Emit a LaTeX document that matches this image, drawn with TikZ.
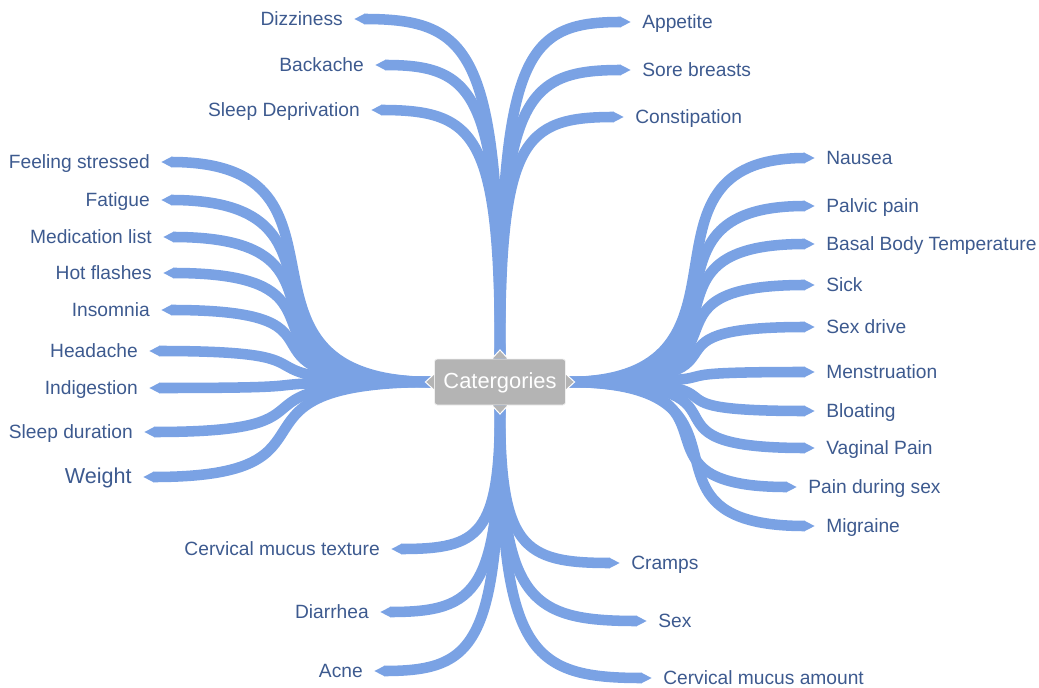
\documentclass[tikz,border=0pt]{standalone}
\usepackage{fontspec}
\setmainfont{Liberation Sans}
\usetikzlibrary{arrows.meta,backgrounds}
\definecolor{branchblue}{RGB}{122,162,228}
\definecolor{labeltext}{RGB}{61,90,143}
\definecolor{hubgray}{RGB}{180,180,180}
\tikzset{
  branch/.style={draw=branchblue, line width=7.9pt, line cap=butt,
    -{Triangle[length=8pt,width=7.2pt]}},
  lbl/.style={font=\fontsize{14.4}{16}\selectfont, text=labeltext, inner xsep=8.25pt,
    inner ysep=0pt, text height=1.0em, text depth=0pt},
  lblL/.style={lbl, anchor=east},
  lblR/.style={lbl, anchor=west},
  hubbox/.style={fill=hubgray, draw=white!80!hubgray, line width=0.6pt, rounded corners=2pt,
    minimum width=98.25pt, minimum height=34.5pt, text=white,
    font=\fontsize{16.4}{18}\selectfont, inner sep=0pt, text height=0.95em, text depth=0pt},
  notch/.style={fill=hubgray, draw=white, line width=0.75pt, line join=miter}
}
\begin{document}
\begin{tikzpicture}[x=0.75pt,y=-0.75pt]
\useasboundingbox (0,0) rectangle (1039,688);
\node[hubbox] (hub) at (500,382) {Catergories};
% notches
\draw[notch] ([xshift=-6pt]hub.north) -- ++(6pt,6.5pt) -- ++(6pt,-6.5pt);
\draw[notch] ([xshift=-6pt]hub.south) -- ++(6pt,-6.5pt) -- ++(6pt,6.5pt);
\draw[notch] ([yshift=6pt]hub.west) -- ++(-6.5pt,-6pt) -- ++(6.5pt,-6pt);
\draw[notch] ([yshift=6pt]hub.east) -- ++(6.5pt,-6pt) -- ++(-6.5pt,-6pt);

% top labels
\node[lblL] (diz) at (354,19) {Dizziness};
\node[lblL] (back) at (375,65) {Backache};
\node[lblL] (sleepdep) at (371,110) {Sleep Deprivation};
\node[lblR] (app) at (631,22) {Appetite};
\node[lblR] (sore) at (631,70) {Sore breasts};
\node[lblR] (const) at (624,117) {Constipation};
% left labels
\node[lblL] (stress) at (161,162) {Feeling stressed};
\node[lblL] (fat) at (161,200) {Fatigue};
\node[lblL] (med) at (163,237) {Medication list};
\node[lblL] (hot) at (163,273) {Hot flashes};
\node[lblL] (ins) at (161,310) {Insomnia};
\node[lblL] (head) at (149,351) {Headache};
\node[lblL] (indig) at (149,388) {Indigestion};
\node[lblL] (sleepdur) at (144,432) {Sleep duration};
\node[lblL, font=\fontsize{16.2}{18}\selectfont] (weight) at (143,477) {Weight};
% right labels
\node[lblR] (naus) at (815,158) {Nausea};
\node[lblR] (palv) at (815,206) {Palvic pain};
\node[lblR] (bbt) at (815,244) {Basal Body Temperature};
\node[lblR] (sick) at (815,285) {Sick};
\node[lblR] (sexd) at (815,327) {Sex drive};
\node[lblR] (mens) at (815,372) {Menstruation};
\node[lblR] (bloat) at (815,411) {Bloating};
\node[lblR] (vag) at (815,448) {Vaginal Pain};
\node[lblR] (pds) at (797,487) {Pain during sex};
\node[lblR] (mig) at (815,526) {Migraine};
% bottom labels
\node[lblL] (cmt) at (391,549) {Cervical mucus texture};
\node[lblL] (diar) at (380,612) {Diarrhea};
\node[lblL] (acne) at (374,671) {Acne};
\node[lblR] (cramp) at (620,563) {Cramps};
\node[lblR] (sex) at (647,621) {Sex};
\node[lblR] (cma) at (652,678) {Cervical mucus amount};

\begin{scope}[on background layer]
% top
\draw[branch] (hub.north) .. controls +(0,-306) and +(120,0) .. (diz.east);
\draw[branch] (hub.north) .. controls +(0,-265) and +(102,0) .. (back.east);
\draw[branch] (hub.north) .. controls +(0,-224) and +(106,0) .. (sleepdep.east);
\draw[branch] (hub.north) .. controls +(0,-303) and +(-107,0) .. (app.west);
\draw[branch] (hub.north) .. controls +(0,-260) and +(-107,0) .. (sore.west);
\draw[branch] (hub.north) .. controls +(0,-218) and +(-102,0) .. (const.west);
% left
\foreach \n in {stress,fat,med,hot,ins,head,indig,sleepdur,weight}
  \draw[branch] (hub.west) .. controls +(-232,0) and +(218,0) .. (\n.east);
% right
\foreach \n in {naus,palv,bbt,sick,sexd,mens,bloat,vag,mig}
  \draw[branch] (hub.east) .. controls +(214,0) and +(-200,0) .. (\n.west);
\draw[branch] (hub.east) .. controls +(199,0) and +(-186,0) .. (pds.west);
% bottom
\draw[branch] (hub.south) .. controls +(0,130) and +(89,0) .. (cmt.east);
\draw[branch] (hub.south) .. controls +(0,186) and +(98,0) .. (diar.east);
\draw[branch] (hub.south) .. controls +(0,239) and +(103,0) .. (acne.east);
\draw[branch] (hub.south) .. controls +(0,142) and +(-98,0) .. (cramp.west);
\draw[branch] (hub.south) .. controls +(0,194) and +(-120,0) .. (sex.west);
\draw[branch] (hub.south) .. controls +(0,246) and +(-125,0) .. (cma.west);
\end{scope}
\end{tikzpicture}
\end{document}
